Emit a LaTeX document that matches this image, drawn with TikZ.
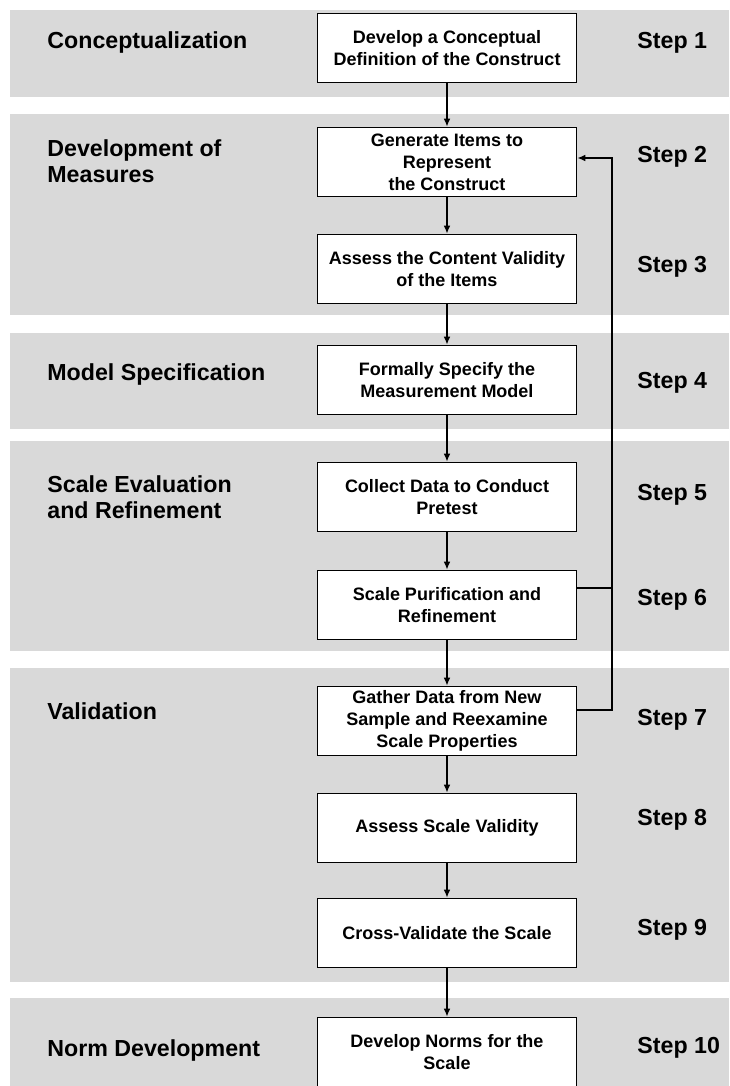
\documentclass[tikz,border=0pt]{standalone}
\usepackage{fontspec}
\setmainfont{Liberation Sans}
\usetikzlibrary{arrows.meta}

\tikzset{
	band/.style = {fill=black!15, draw=none},
	stepbox/.style = {draw=black, fill=white, line width=0.8pt, minimum width=129.5pt,
		minimum height=34.5pt, align=center, inner sep=2pt,
		font=\bfseries\fontsize{9}{11}\selectfont},
	phase/.style = {anchor=west, align=left, inner sep=0pt,
		font=\bfseries\fontsize{11.6}{13}\selectfont},
	steplbl/.style = {anchor=west, inner sep=0pt,
		font=\bfseries\fontsize{11.6}{13}\selectfont},
	flow/.style = {line width=0.8pt, -{Latex[length=4pt,width=3.4pt]}},
	link/.style = {line width=0.8pt}
}

\begin{document}
\begin{tikzpicture}[x=0.5pt, y=-0.5pt]
		\useasboundingbox (0,0) rectangle (729,1086);
		
		% gray phase bands
		\fill[band] (10,10) rectangle (729,97);
		\fill[band] (10,114) rectangle (729,315);
		\fill[band] (10,333) rectangle (729,429);
		\fill[band] (10,441) rectangle (729,651);
		\fill[band] (10,668) rectangle (729,982);
		\fill[band] (10,998) rectangle (729,1090);
		
		% phase names
		\node[phase] (ph1) at (47,43) {Conceptualization};
		\node[phase] (ph2) at (47,161) {Development of\\Measures};
		\node[phase] (ph3) at (47,374) {Model Specification};
		\node[phase] (ph4) at (47,497) {Scale Evaluation\\and Refinement};
		\node[phase] (ph5) at (47,711) {Validation};
		\node[phase] (ph6) at (47,1050) {Norm Development};
		
		% boxes
		\node[stepbox] (b1) at (447,48) {Develop a Conceptual\\Definition of the Construct};
		\node[stepbox] (b2) at (447,162) {Generate Items to\\Represent\\the Construct};
		\node[stepbox] (b3) at (447,269) {Assess the Content Validity\\of the Items};
		\node[stepbox] (b4) at (447,380) {Formally Specify the\\Measurement Model};
		\node[stepbox] (b5) at (447,497) {Collect Data to Conduct\\Pretest};
		\node[stepbox] (b6) at (447,605) {Scale Purification and\\Refinement};
		\node[stepbox] (b7) at (447,721) {Gather Data from New\\Sample and Reexamine\\Scale Properties};
		\node[stepbox] (b8) at (447,828) {Assess Scale Validity};
		\node[stepbox] (b9) at (447,933) {Cross-Validate the Scale};
		\node[stepbox] (b10) at (447,1052) {Develop Norms for the\\Scale};
		
		% step numbers
		\node[steplbl] (s1) at (637,43) {Step 1};
		\node[steplbl] (s2) at (637,157) {Step 2};
		\node[steplbl] (s3) at (637,267) {Step 3};
		\node[steplbl] (s4) at (637,383) {Step 4};
		\node[steplbl] (s5) at (637,495) {Step 5};
		\node[steplbl] (s6) at (637,600) {Step 6};
		\node[steplbl] (s7) at (637,720) {Step 7};
		\node[steplbl] (s8) at (637,820) {Step 8};
		\node[steplbl] (s9) at (637,930) {Step 9};
		\node[steplbl] (s10) at (637,1048) {Step 10};
		
		% main flow
		\foreach \a/\b in {b1/b2,b2/b3,b3/b4,b4/b5,b5/b6,b6/b7,b7/b8,b8/b9,b9/b10}
			\draw[flow] (\a) -- (\b);
		
		% feedback loop
		\coordinate (fb2) at (612,158);
		\coordinate (fb6) at (612,588);
		\coordinate (fb7) at (612,710);
		
		\draw[link] (b6.east |- fb6) -- (fb6);
		
		\draw[flow] (b7.east |- fb7) -- (fb7) -- (fb2) -- (b2.east |- fb2);
		
	\end{tikzpicture}
\end{document}
